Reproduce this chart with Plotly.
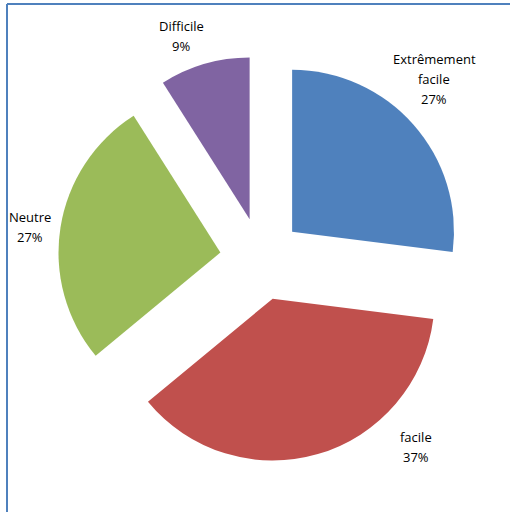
import plotly.graph_objects as go

labels = ["Extrêmement facile", "facile", "Neutre", "Difficile"]
values = [27, 37, 27, 9]
colors = ["#4F81BD", "#C0504D", "#9BBB59", "#8064A2"]

W, H = 510, 512

def px(x):
    return x / W

def py(y):
    return 1 - y / H

fig = go.Figure(go.Pie(
    labels=labels,
    values=values,
    sort=False,
    direction="clockwise",
    rotation=0,
    pull=0.255,
    marker=dict(colors=colors, line=dict(width=0)),
    textinfo="none",
    hoverinfo="label+percent",
    showlegend=False,
    domain=dict(x=[px(58), px(464.3)], y=[py(462.3), py(55.7)]),
))

total = sum(values)
label_pos = [(434, 79), (416, 447), (30, 227), (181, 36)]
line_gap = 20
for lab, v, (x, y) in zip(labels, values, label_pos):
    pct = round(v / total * 100)
    lines = lab.split(" ") + [f"{pct}%"]
    n = len(lines)
    for i, t in enumerate(lines):
        yy = y + (i - (n - 1) / 2) * line_gap
        fig.add_annotation(
            x=px(x), y=py(yy), xref="paper", yref="paper",
            text=t, showarrow=False, xanchor="center", yanchor="middle",
            font=dict(family="Open Sans", size=13, color="#000000"),
        )

# chart frame (top and left edges visible)
fig.add_shape(type="line", xref="paper", yref="paper",
              x0=px(7), y0=py(4), x1=px(512), y1=py(4),
              line=dict(color="#4F81BD", width=2))
fig.add_shape(type="line", xref="paper", yref="paper",
              x0=px(7), y0=py(4), x1=px(7), y1=py(514),
              line=dict(color="#4F81BD", width=2))

fig.update_layout(
    width=W, height=H,
    margin=dict(l=0, r=0, t=0, b=0),
    paper_bgcolor="white",
    plot_bgcolor="white",
)

fig.write_html("out.html", config={"displayModeBar": False},
               post_script="document.body.style.margin='0';document.body.style.padding='0';")
